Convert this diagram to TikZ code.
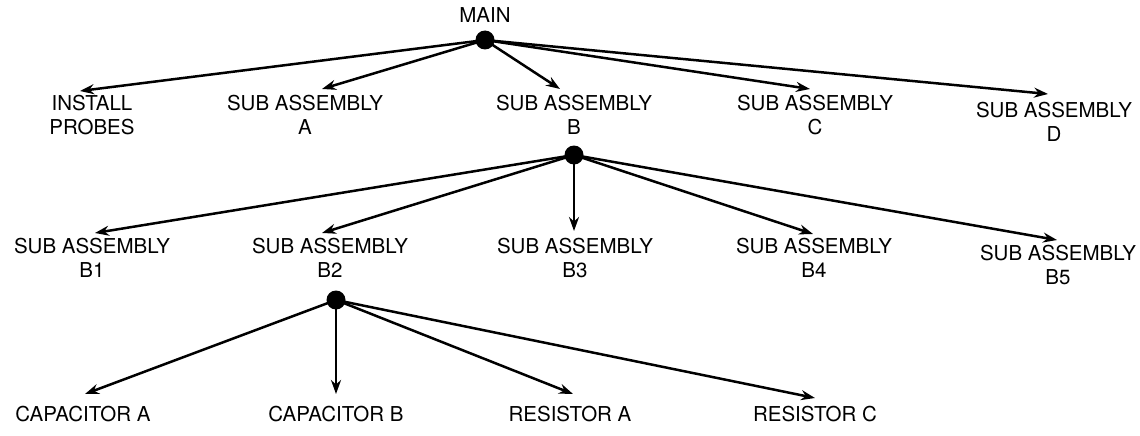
\documentclass[tikz,border=0pt]{standalone}
\usepackage{fontspec}
\setmainfont{TeX Gyre Heros}
\usetikzlibrary{arrows.meta}
\begin{document}
\begin{tikzpicture}[x=1pt,y=-1pt,
  lbl/.style={align=center,inner sep=0pt,font=\fontsize{20.5}{24}\selectfont},
  dot/.style={circle,fill=black,inner sep=0pt,minimum size=19pt},
  arr/.style={line width=2.5pt,-{Stealth[length=14pt,width=10pt]}}]
\useasboundingbox (0,0) rectangle (1140,436);
% level 0
\node[lbl] (main) at (485,15) {MAIN};
\node[dot] (d0) at (485,40) {};
% level 1
\node[lbl,anchor=north] (ip) at (92,95) {INSTALL\\PROBES};
\node[lbl,anchor=north] (sa) at (305,95) {SUB ASSEMBLY\\A};
\node[lbl,anchor=north] (sb) at (574,95) {SUB ASSEMBLY\\B};
\node[lbl,anchor=north] (sc) at (815,95) {SUB ASSEMBLY\\C};
\node[lbl,anchor=north] (sd) at (1054,102) {SUB ASSEMBLY\\D};
\coordinate (tip) at (80,91);
\coordinate (tsa) at (322,89);
\coordinate (tsb) at (560,89);
\coordinate (tsc) at (810,89);
\coordinate (tsd) at (1048,94);
\draw[arr] (d0.center) -- (tip);
\draw[arr] (d0.center) -- (tsa);
\draw[arr] (d0.center) -- (tsb);
\draw[arr] (d0.center) -- (tsc);
\draw[arr] (d0.center) -- (tsd);
% level 2
\node[dot] (d1) at (574,155) {};
\node[lbl,anchor=north] (b1) at (92,238) {SUB ASSEMBLY\\B1};
\node[lbl,anchor=north] (b2) at (330,238) {SUB ASSEMBLY\\B2};
\node[lbl,anchor=north] (b3) at (575,238) {SUB ASSEMBLY\\B3};
\node[lbl,anchor=north] (b4) at (814,238) {SUB ASSEMBLY\\B4};
\node[lbl,anchor=north] (b5) at (1058,245) {SUB ASSEMBLY\\B5};
\coordinate (tb1) at (95,233);
\coordinate (tb2) at (322,233);
\coordinate (tb3) at (574,231);
\coordinate (tb4) at (813,234);
\coordinate (tb5) at (1057,240);
\draw[arr] (d1.center) -- (tb1);
\draw[arr] (d1.center) -- (tb2);
\draw[arr] (d1.center) -- (tb3);
\draw[arr] (d1.center) -- (tb4);
\draw[arr] (d1.center) -- (tb5);
% level 3
\node[dot] (d2) at (336,300) {};
\node[lbl] (ca) at (83,414) {CAPACITOR A};
\node[lbl] (cb) at (336,414) {CAPACITOR B};
\node[lbl] (ra) at (570,414) {RESISTOR A};
\node[lbl] (rc) at (815,414) {RESISTOR C};
\coordinate (tca) at (85,394);
\coordinate (tcb) at (336,394);
\coordinate (tra) at (573,394);
\coordinate (trc) at (815,398);
\draw[arr] (d2.center) -- (tca);
\draw[arr] (d2.center) -- (tcb);
\draw[arr] (d2.center) -- (tra);
\draw[arr] (d2.center) -- (trc);
\end{tikzpicture}
\end{document}
